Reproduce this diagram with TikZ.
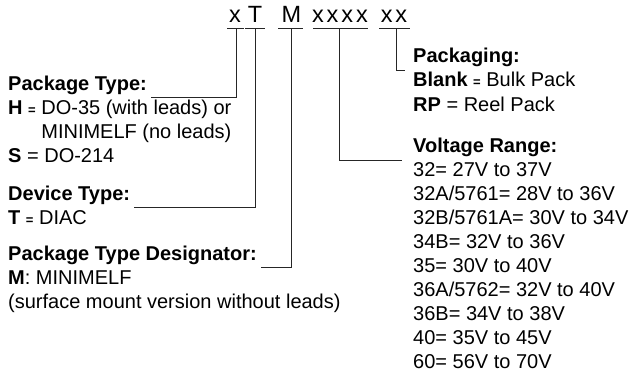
\documentclass[tikz,border=0pt]{standalone}
\usepackage{fontspec}
\setmainfont{Liberation Sans}
\begin{document}
\begin{tikzpicture}[x=1pt,y=-1pt,
  txt/.style={anchor=base west,inner sep=0pt,font=\fontsize{20}{24}\selectfont},
  ttl/.style={anchor=base,inner sep=0pt,font=\fontsize{23.5}{24}\selectfont},
  conn/.style={line width=0.8pt,black!85}]
\useasboundingbox (0,0) rectangle (639,378);
\newcommand{\seq}{{\fontsize{13}{13}\selectfont\textbf{=}}}
% title
\node[ttl] (tx) at (235,22) {x};
\node[ttl] (tT) at (255,22) {T};
\node[ttl] (tM) at (291.5,22) {M};
\node[ttl] (txxxx) at (340,22) {x\hspace{3pt}x\hspace{3pt}x\hspace{3pt}x};
\node[ttl] (txx) at (394,22) {x\hspace{3pt}x};
\coordinate (ux) at (236,28);
\coordinate (uT) at (255,28);
\coordinate (uM) at (291.5,28);
\coordinate (uxxxx) at (339,28);
\coordinate (uxx) at (396,28);
\draw[conn] (227,28) -- (244,28);
\draw[conn] (245,28) -- (265,28);
\draw[conn] (278,28) -- (303,28);
\draw[conn] (313,28) -- (368,28);
\draw[conn] (379,28) -- (410,28);
% left column
\node[txt] (pt) at (8,90) {\textbf{Package Type:}};
\node[txt] (pth) at (8,114) {\textbf{H} \seq{} DO-35 (with leads) or};
\node[txt] (ptm) at (8,138) {\phantom{\textbf{H} \seq{} }MINIMELF (no leads)};
\node[txt] (pts) at (8,162) {\textbf{S} = DO-214};
\node[txt] (dt) at (8,200) {\textbf{Device Type:}};
\node[txt] (dtt) at (8,224) {\textbf{T} \seq{} DIAC};
\node[txt] (ptd) at (8,260) {\textbf{Package Type Designator:}};
\node[txt] (ptdm) at (8,284) {\textbf{M}: MINIMELF};
\node[txt] (ptds) at (8,308) {(surface mount version without leads)};
% right column
\node[txt] (pk) at (413,62) {\textbf{Packaging:}};
\node[txt] (pkb) at (413,86.5) {\textbf{Blank} \seq{} Bulk Pack};
\node[txt] (pkr) at (413,111) {\textbf{RP} = Reel Pack};
\node[txt] (vr) at (413,152) {\textbf{Voltage Range:}};
\node[txt] (v1) at (413,176) {32= 27V to 37V};
\node[txt] (v2) at (413,200) {32A/5761= 28V to 36V};
\node[txt] (v3) at (413,224) {32B/5761A= 30V to 34V};
\node[txt] (v4) at (413,248) {34B= 32V to 36V};
\node[txt] (v5) at (413,272) {35= 30V to 40V};
\node[txt] (v6) at (413,296) {36A/5762= 32V to 40V};
\node[txt] (v7) at (413,320) {36B= 34V to 38V};
\node[txt] (v8) at (413,344) {40= 35V to 45V};
\node[txt] (v9) at (413,368) {60= 56V to 70V};
% connectors
\draw[conn] (ux) |- ([xshift=4pt,yshift=-7pt]pt.base east);
\draw[conn] (uT) |- ([xshift=4pt,yshift=-7pt]dt.base east);
\draw[conn] (uM) |- ([xshift=4pt,yshift=-7pt]ptd.base east);
\draw[conn] (uxxxx) |- ([xshift=-11pt,yshift=-8pt]vr.base west);
\draw[conn] (uxx) |- ([xshift=-8pt,yshift=-8pt]pk.base west);
\end{tikzpicture}
\end{document}
